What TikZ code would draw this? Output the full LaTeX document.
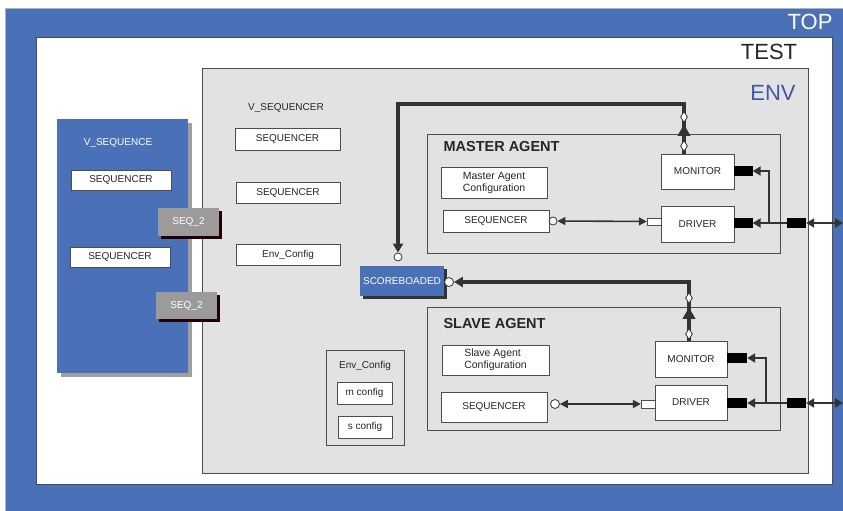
\documentclass[tikz,border=0pt]{standalone}
\usepackage{fontspec}
\setmainfont{Liberation Sans}
\usetikzlibrary{arrows.meta,shapes.geometric,shadows}
\definecolor{topblue}{HTML}{4A70B7}
\definecolor{envgrey}{HTML}{E2E2E2}
\definecolor{envtext}{HTML}{4355A5}
\definecolor{seqgrey}{HTML}{9B9B9B}
\definecolor{wire}{HTML}{333333}
\begin{document}
\begin{tikzpicture}[x=1pt, y=-1pt,
    every node/.style={font=\fontsize{10}{12}\selectfont, text=black!85},
    frame/.style={draw=gray!70!black, minimum width=#1, inner sep=0pt},
    blk/.style={draw=gray!60!black, thick, fill=white, inner sep=0pt, minimum height=22},
    bluebox/.style={fill=topblue, inner sep=0pt, text=white},
    seqtwo/.style={fill=seqgrey, text=white, minimum width=61, minimum height=28, inner sep=0pt,
        drop shadow={shadow xshift=3pt, shadow yshift=-3pt, fill=black!85!red, opacity=1}},
    port/.style={fill=black, minimum width=19, minimum height=10, inner sep=0pt},
    inport/.style={draw=gray!60!black, fill=white, minimum width=14, minimum height=7, inner sep=0pt},
    ring/.style={circle, draw=wire, thick, fill=white, minimum size=8, inner sep=0pt},
    dia/.style={diamond, draw=wire, thick, fill=white, minimum width=7, minimum height=11, inner sep=0pt},
    tri/.style={regular polygon, regular polygon sides=3, fill=wire, minimum size=15, inner sep=0pt},
    bus/.style={draw=wire, line width=3.2pt},
    link/.style={draw=wire, line width=2.6pt},
    thin/.style={draw=wire, line width=1.6pt},
    head/.style={font=\fontsize{22}{24}\selectfont},
    title/.style={font=\fontsize{14.5}{16}\selectfont\bfseries, anchor=west}
]
    \useasboundingbox (0,0) rectangle (843,511);
    \fill[white] (0,0) rectangle (843,511);

    \node[fill=topblue, draw=gray!60, minimum width=838, minimum height=503, inner sep=0pt] (top) at (424,259.5) {};
    \node[head, text=white] at (810,22) {TOP};
    \node[fill=white, draw=gray!60!black, minimum width=796, minimum height=447, inner sep=0pt] (test) at (434,260.5) {};
    \node[head] at (769,52) {TEST};
    \node[fill=envgrey, draw=gray!60!black, minimum width=606, minimum height=405, inner sep=0pt] (env) at (505,270.5) {};
    \node[head, text=envtext] at (773,93) {ENV};

    \node[bluebox, minimum width=131, minimum height=254,
        drop shadow={shadow xshift=4pt, shadow yshift=-4pt, fill=gray!75, opacity=1}] (vseq) at (122.5,246) {};
    \node[text=white] at (118,143) {V\_SEQUENCE};
    \node[blk, minimum width=100, minimum height=20] (vseqa) at (121,180) {SEQUENCER};
    \node[blk, minimum width=100, minimum height=20] (vseqb) at (120,257) {SEQUENCER};
    \node[seqtwo] (seqa) at (188.5,222) {SEQ\_2};
    \node[seqtwo, minimum height=27] (seqb) at (186.5,305.5) {SEQ\_2};

    \node at (286,108) {V\_SEQUENCER};
    \node[blk, minimum width=105] (vsqra) at (287.5,139) {SEQUENCER};
    \node[blk, minimum width=104, minimum height=21] (vsqrb) at (288,192.5) {SEQUENCER};
    \node[blk, minimum width=104, minimum height=21] (envcfg) at (288,254.5) {Env\_Config};

    \node[fill=envgrey, draw=gray!60!black, thick, minimum width=78, minimum height=95, inner sep=0pt] (cfggrp) at (365,397.5) {};
    \node at (365,366) {Env\_Config};
    \node[blk, minimum width=55] (mcfgs) at (364.5,393) {m config};
    \node[blk, minimum width=54] (scfgs) at (365,427) {s config};

    \node[bluebox, minimum width=84, minimum height=30,
        drop shadow={shadow xshift=3pt, shadow yshift=-3pt, fill=black!80, opacity=1}] (sb) at (402,281) {SCOREBOADED};

    % master agent
    \node[fill=envgrey, draw=gray!60!black, thick, minimum width=353, minimum height=119, inner sep=0pt] (magent) at (603.5,193.5) {};
    \node[title] at (440,147) {MASTER AGENT};
    \node[blk, minimum width=106, minimum height=31, align=left, font=\fontsize{10.5}{12}\selectfont] (mcfg) at (494,182.5) {Master Agent\\Configuration};
    \node[blk, minimum width=106] (mseq) at (496,221) {SEQUENCER};
    \node[blk, minimum width=73, minimum height=35] (mmon) at (697.5,171.5) {MONITOR};
    \node[blk, minimum width=73, minimum height=36] (mdrv) at (697.5,224) {DRIVER};
    \node[port] (mmonp) at (743,171) {};
    \node[port] (mdrvp) at (743,223) {};
    \node[port] (mext) at (796.5,223) {};
    \node[inport] (mdrvin) at (654,221.5) {};
    \node[ring] (mseqr) at (553,221) {};
    \coordinate (mjoin) at (769,223);
    \coordinate (mout) at (843,223);
    \coordinate (mtop) at (684,104);
    \node[ring] (sbtop) at (398,257) {};

    % slave agent
    \node[fill=envgrey, draw=gray!60!black, thick, minimum width=353, minimum height=123, inner sep=0pt] (sagent) at (603.5,368.5) {};
    \node[title] at (440,324) {SLAVE AGENT};
    \node[blk, minimum width=107, minimum height=30, align=left, font=\fontsize{10.5}{12}\selectfont] (scfg) at (495.5,360) {Slave Agent\\Configuration};
    \node[blk, minimum width=106, minimum height=30] (sseq) at (494,407) {SEQUENCER};
    \node[blk, minimum width=72, minimum height=36] (smon) at (691,359) {MONITOR};
    \node[blk, minimum width=72, minimum height=35] (sdrv) at (691,402.5) {DRIVER};
    \node[port, minimum width=20] (smonp) at (737,358) {};
    \node[port, minimum width=20] (sdrvp) at (737,403) {};
    \node[port] (sext) at (796.5,403) {};
    \node[inport, minimum height=8] (sdrvin) at (648,404) {};
    \node[ring, minimum size=9] (sseqr) at (555,404) {};
    \coordinate (sjoin) at (766,403);
    \coordinate (sout) at (843,403);
    \coordinate (stop) at (689,282);
    \node[ring, minimum size=9] (sbside) at (449,282) {};

    \draw[bus, -{Triangle[length=9pt, width=10pt]}] (mtop |- mmon.north) -- (mtop) -| (sbtop);
    \node[dia] at (684,117) {};
    \node[dia] at (684,146) {};
    \node[tri] at (684,132) {};
    \draw[bus, -{Triangle[length=9pt, width=10pt]}] (stop |- smon.north) -- (stop) -- (sbside);
    \node[dia] at (689,298) {};
    \node[dia] at (689,334) {};
    \node[tri] at (689,315) {};

    \draw[thin, {Triangle[length=8pt, width=8pt]}-{Triangle[length=8pt, width=8pt]}] (mseqr) -- (mdrvin);
    \draw[thin, {Triangle[length=8pt, width=8pt]}-{Triangle[length=8pt, width=8pt]}] (sseqr) -- (sdrvin);

    \draw[link, -{Triangle[length=8pt, width=9pt]}] (mext.west) -- (mdrvp.east);
    \draw[link, -{Triangle[length=8pt, width=9pt]}] (mjoin) |- (mmonp.east);
    \draw[link, {Triangle[length=8pt, width=9pt]}-{Triangle[length=8pt, width=9pt]}] (mext.east) -- (mout);
    \draw[link, -{Triangle[length=8pt, width=9pt]}] (sext.west) -- (sdrvp.east);
    \draw[link, -{Triangle[length=8pt, width=9pt]}] (sjoin) |- (smonp.east);
    \draw[link, {Triangle[length=8pt, width=9pt]}-{Triangle[length=8pt, width=9pt]}] (sext.east) -- (sout);
\end{tikzpicture}
\end{document}
